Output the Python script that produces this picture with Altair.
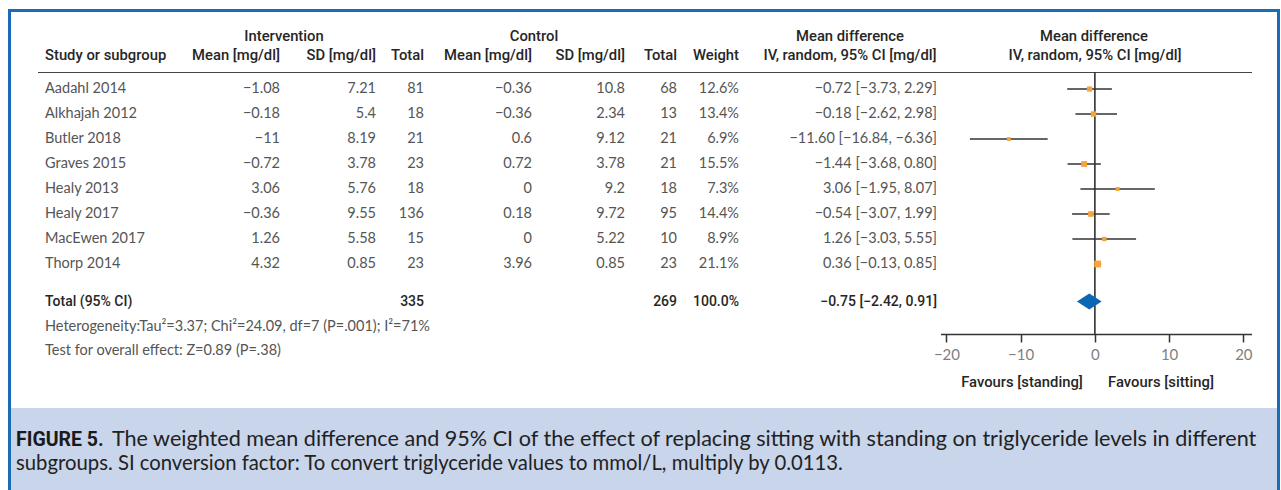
import altair as alt
import pandas as pd

# ---- study data -------------------------------------------------------------
studies = ["Aadahl 2014", "Alkhajah 2012", "Butler 2018", "Graves 2015",
           "Healy 2013", "Healy 2017", "MacEwen 2017", "Thorp 2014"]
int_mean = [-1.08, -0.18, -11, -0.72, 3.06, -0.36, 1.26, 4.32]
int_sd = [7.21, 5.4, 8.19, 3.78, 5.76, 9.55, 5.58, 0.85]
int_n = [81, 18, 21, 23, 18, 136, 15, 23]
ctl_mean = [-0.36, -0.36, 0.6, 0.72, 0, 0.18, 0, 3.96]
ctl_sd = [10.8, 2.34, 9.12, 3.78, 9.2, 9.72, 5.22, 0.85]
ctl_n = [68, 13, 21, 21, 18, 95, 10, 23]
weight = [12.6, 13.4, 6.9, 15.5, 7.3, 14.4, 8.9, 21.1]
md = [-0.72, -0.18, -11.60, -1.44, 3.06, -0.54, 1.26, 0.36]
md_lo = [-3.73, -2.62, -16.84, -3.68, -1.95, -3.07, -3.03, -0.13]
md_hi = [2.29, 2.98, -6.36, 0.80, 8.07, 1.99, 5.55, 0.85]

# pooled estimate
total_int_n = 335
total_ctl_n = 269
total_weight = 100.0
total_md = -0.75
total_lo = -2.42
total_hi = 0.91

axis_ticks = [-20, -10, 0, 10, 20]

heterogeneity = "Heterogeneity:Tau\u00b2=3.37; Chi\u00b2=24.09, df=7 (P=.001); I\u00b2=71%"
overall_test = "Test for overall effect: Z=0.89 (P=.38)"
caption_lead = "FIGURE 5."
caption_1 = ("The weighted mean difference and 95% CI of the effect of replacing sitting "
             "with standing on triglyceride levels in different")
caption_2 = ("subgroups. SI conversion factor: To convert triglyceride values to mmol/L, "
             "multiply by 0.0113.")

# ---- styling ----------------------------------------------------------------
BODY_FONT = "Lato"
HEAD_FONT = "Roboto"
BODY_COLOR = "#555555"
HEAD_COLOR = "#262626"
FRAME_BLUE = "#1a6bb8"
CAPTION_BG = "#c8d5eb"
TOTAL_ROW = 8.5
BODY_SIZE = 14.5
HEAD_SIZE = 14.8


def minus(s):
    return str(s).replace("-", "\u2212")


def ci_text(m, lo, hi):
    return minus(f"{m:.2f} [{lo:.2f}, {hi:.2f}]")


rows = pd.DataFrame({
    "row": list(range(len(studies))),
    "study": studies,
    "int_mean": [minus(v) for v in int_mean],
    "int_sd": [minus(v) for v in int_sd],
    "int_n": [str(v) for v in int_n],
    "ctl_mean": [minus(v) for v in ctl_mean],
    "ctl_sd": [minus(v) for v in ctl_sd],
    "ctl_n": [str(v) for v in ctl_n],
    "weight": [f"{w:.1f}%" for w in weight],
    "ci": [ci_text(m, l, h) for m, l, h in zip(md, md_lo, md_hi)],
    "md": md, "lo": md_lo, "hi": md_hi, "w": weight,
})

total = pd.DataFrame({
    "row": [TOTAL_ROW],
    "study": ["Total (95% CI)"],
    "int_n": [str(total_int_n)],
    "ctl_n": [str(total_ctl_n)],
    "weight": [f"{total_weight:.1f}%"],
    "ci": [ci_text(total_md, total_lo, total_hi)],
})

yscale = alt.Scale(domain=[0, TOTAL_ROW], range=[89, 301.5])
xscale = alt.Scale(domain=[-20.8, 21.1], range=[940.5, 1251.5])
Y = alt.Y("row:Q", scale=yscale, axis=None)

one = pd.DataFrame({"k": [0]})

layers = []

# ---- table columns ----------------------------------------------------------
columns = [("study", 45, "left"), ("int_mean", 280, "right"), ("int_sd", 376, "right"),
           ("int_n", 424, "right"), ("ctl_mean", 532, "right"), ("ctl_sd", 625, "right"),
           ("ctl_n", 677, "right"), ("weight", 739, "right"), ("ci", 937, "right")]
for field, xpos, align in columns:
    layers.append(
        alt.Chart(rows).mark_text(align=align, baseline="middle", font=BODY_FONT,
                                  fontSize=BODY_SIZE, color=BODY_COLOR)
        .encode(x=alt.value(xpos), y=Y, text=f"{field}:N")
    )
    if field in total.columns:
        layers.append(
            alt.Chart(total).mark_text(align=align, baseline="middle", font=HEAD_FONT,
                                       fontSize=14, fontWeight=500, color=HEAD_COLOR)
            .encode(x=alt.value(xpos), y=Y, text=f"{field}:N")
        )

# ---- headers ----------------------------------------------------------------
headers = pd.DataFrame({
    "label": ["Intervention", "Control", "Mean difference", "Mean difference",
              "Study or subgroup", "Mean [mg/dl]", "SD [mg/dl]", "Total",
              "Mean [mg/dl]", "SD [mg/dl]", "Total", "Weight",
              "IV, random, 95% CI [mg/dl]", "IV, random, 95% CI [mg/dl]"],
    "px": [284, 534, 850, 1094, 45, 280, 376, 424, 532, 625, 677, 739, 850, 1095],
    "py": [37, 37, 37, 37, 56, 56, 56, 56, 56, 56, 56, 56, 56, 56],
    "al": ["center"] * 4 + ["left"] + ["right"] * 7 + ["center"] * 2,
})
for al in ["left", "center", "right"]:
    sub = headers[headers["al"] == al]
    layers.append(
        alt.Chart(sub).mark_text(align=al, baseline="middle", font=HEAD_FONT,
                                 fontSize=HEAD_SIZE, fontWeight=500, color=HEAD_COLOR)
        .encode(x=alt.X("px:Q", scale=None), y=alt.Y("py:Q", scale=None), text="label:N")
    )

# header rule
layers.append(
    alt.Chart(one).mark_rule(color="#444", strokeWidth=1.2)
    .encode(x=alt.value(38), x2=alt.value(1252), y=alt.value(72.5))
)

# footnotes under the table
notes = pd.DataFrame({"label": [heterogeneity, overall_test], "py": [327, 351]})
layers.append(
    alt.Chart(notes).mark_text(align="left", baseline="middle", font=BODY_FONT,
                               fontSize=BODY_SIZE, color=BODY_COLOR)
    .encode(x=alt.value(45), y=alt.Y("py:Q", scale=None), text="label:N")
)

# ---- forest plot ------------------------------------------------------------
zero = pd.DataFrame({"x": [0]})
layers.append(
    alt.Chart(zero).mark_rule(color="#222", strokeWidth=1.5)
    .encode(x=alt.X("x:Q", scale=xscale,
                    axis=alt.Axis(values=axis_ticks, title=None, grid=False,
                                  domainColor="#333", domainWidth=1.5,
                                  tickColor="#333", tickWidth=1.5, tickSize=8,
                                  labelFont=BODY_FONT, labelFontSize=15,
                                  labelColor="#808080", labelPadding=5,
                                  labelExpr="replace(datum.label, '-', '\u2212')")),
            y=alt.value(72.5), y2=alt.value(334))
)

layers.append(
    alt.Chart(rows).mark_rule(color="#333", strokeWidth=1.5)
    .encode(x=alt.X("lo:Q", scale=xscale), x2="hi:Q", y=Y)
)
layers.append(
    alt.Chart(rows).mark_square(color="#f5a33c", opacity=1, filled=True)
    .encode(x=alt.X("md:Q", scale=xscale), y=Y,
            size=alt.Size("w:Q", scale=alt.Scale(type="linear", domain=[0, 21.1], range=[0, 46]),
                          legend=None))
)

# pooled-estimate diamond
half = 0.32
diamond = pd.DataFrame({
    "x": [total_lo, total_md, total_hi],
    "top": [TOTAL_ROW, TOTAL_ROW - half, TOTAL_ROW],
    "bot": [TOTAL_ROW, TOTAL_ROW + half, TOTAL_ROW],
})
layers.append(
    alt.Chart(diamond).mark_area(color="#0c66b4", opacity=1)
    .encode(x=alt.X("x:Q", scale=xscale),
            y=alt.Y("top:Q", scale=yscale, axis=None), y2="bot:Q")
)

favours = pd.DataFrame({"label": ["Favours [standing]", "Favours [sitting]"],
                        "px": [1022, 1161]})
layers.append(
    alt.Chart(favours).mark_text(align="center", baseline="middle", font=HEAD_FONT,
                                 fontSize=HEAD_SIZE, fontWeight=500, color=HEAD_COLOR)
    .encode(x=alt.X("px:Q", scale=None), y=alt.value(383), text="label:N")
)

# ---- frame and caption ------------------------------------------------------
layers.append(
    alt.Chart(one).mark_rect(color=CAPTION_BG)
    .encode(x=alt.value(11), x2=alt.value(1277), y=alt.value(408), y2=alt.value(490))
)
layers.append(
    alt.Chart(one).mark_rule(color=FRAME_BLUE, strokeWidth=3)
    .encode(x=alt.value(8), x2=alt.value(1280), y=alt.value(10.5))
)
layers.append(
    alt.Chart(one).mark_rule(color=FRAME_BLUE, strokeWidth=3)
    .encode(x=alt.value(9.5), y=alt.value(9), y2=alt.value(490))
)
layers.append(
    alt.Chart(one).mark_rule(color=FRAME_BLUE, strokeWidth=3)
    .encode(x=alt.value(1278.5), y=alt.value(9), y2=alt.value(490))
)

layers.append(
    alt.Chart(one).mark_text(align="left", baseline="middle", font=HEAD_FONT,
                             fontSize=19.5, fontWeight="bold", color="#1a1a1a")
    .encode(x=alt.value(16), y=alt.value(440), text=alt.value(caption_lead))
)
# first caption line is set a touch wider so it spans the full box like justified text
layers.append(
    alt.Chart(one).mark_text(align="left", baseline="middle", font=BODY_FONT,
                             fontSize=21.6, color="#222")
    .encode(x=alt.value(112), y=alt.value(440), text=alt.value(caption_1))
)
layers.append(
    alt.Chart(one).mark_text(align="left", baseline="middle", font=BODY_FONT,
                             fontSize=20.3, color="#222")
    .encode(x=alt.value(16), y=alt.value(464), text=alt.value(caption_2))
)

chart = (
    alt.layer(*layers)
    .resolve_scale(x="shared", y="shared")
    .properties(width=1281, height=334,
                padding={"left": 0, "top": 0, "right": 0, "bottom": 156},
                autosize=alt.AutoSizeParams(type="none"),
                background="white")
    .configure_view(stroke=None)
)

chart.save("out.html", embed_options={"renderer": "svg", "actions": False})
